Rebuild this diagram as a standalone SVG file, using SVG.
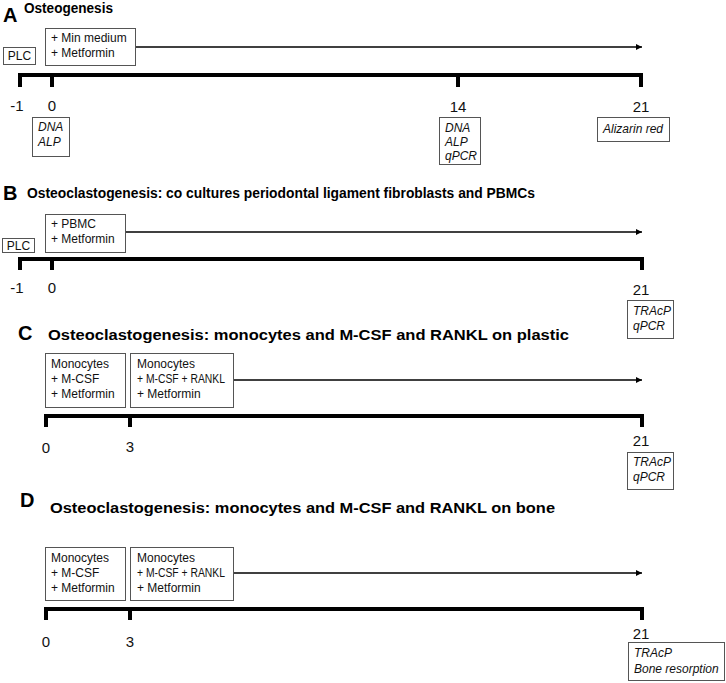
<svg xmlns="http://www.w3.org/2000/svg" width="726" height="683" viewBox="0 0 726 683">
<defs>
<marker id="ah" viewBox="0 0 10 10" refX="10" refY="5" markerWidth="8" markerHeight="6" markerUnits="userSpaceOnUse" orient="auto">
<path d="M0,0 L10,5 L0,10 z" fill="#000"/>
</marker>
<style>
.box{fill:#fff;stroke:#555;stroke-width:1}
.t{font-family:"Liberation Sans",Arial,sans-serif;font-size:12px;fill:#111}
.i{font-family:"Liberation Sans",Arial,sans-serif;font-size:12px;font-style:italic;fill:#111}
.n{font-family:"Liberation Sans",Arial,sans-serif;font-size:15px;fill:#111;text-anchor:middle}
.L{font-family:"Liberation Sans",Arial,sans-serif;font-size:20px;font-weight:bold;fill:#000}
.h{font-family:"Liberation Sans",Arial,sans-serif;font-size:14px;font-weight:bold;fill:#000}
.arr{stroke:#000;stroke-width:1.5;fill:none;marker-end:url(#ah)}
.tl{stroke:#000;stroke-width:4;fill:none}
</style>
</defs>
<rect width="726" height="683" fill="#fff"/>

<!-- Connectors: arrows and timelines -->
<g id="connectors">
<line class="arr" x1="135.5" y1="47" x2="642" y2="47"/>
<line class="arr" x1="125.5" y1="232" x2="642" y2="232"/>
<line class="arr" x1="233.5" y1="380" x2="642" y2="380"/>
<line class="arr" x1="233.5" y1="573" x2="642" y2="573"/>
<path class="tl" d="M20,87 V75 H641 V87 M52,75 V87 M458,75 V87"/>
<path class="tl" d="M20,270 V259 H642 V270 M52,259 V270"/>
<path class="tl" d="M46,427 V416 H642 V427 M130,416 V427"/>
<path class="tl" d="M46,620 V609 H642 V620 M130,609 V620"/>
</g>

<!-- Panel A -->
<g id="panelA">
<text class="L" x="3" y="22">A</text>
<text class="h" x="24" y="13" textLength="89" lengthAdjust="spacingAndGlyphs">Osteogenesis</text>
<g id="A_plc"><rect class="box" x="3.5" y="47.5" width="32" height="17"/><text class="t" x="19.5" y="60" text-anchor="middle">PLC</text></g>
<g id="A_treat"><rect class="box" x="45.5" y="28.5" width="90" height="37"/><text class="t" x="51" y="42">+ Min medium</text><text class="t" x="51" y="57">+ Metformin</text></g>
<g id="A_d0"><rect class="box" x="32.5" y="117.5" width="37" height="39"/><text class="i" x="38" y="131">DNA</text><text class="i" x="38" y="146">ALP</text></g>
<g id="A_d14"><rect class="box" x="439.5" y="117.5" width="41" height="47"/><text class="i" x="445" y="132">DNA</text><text class="i" x="445" y="146">ALP</text><text class="i" x="445" y="160">qPCR</text></g>
<g id="A_d21"><rect class="box" x="597.5" y="117.5" width="72" height="24"/><text class="i" x="603" y="133">Alizarin red</text></g>
<text class="n" x="17" y="111">-1</text>
<text class="n" x="52" y="111">0</text>
<text class="n" x="458" y="112">14</text>
<text class="n" x="641" y="112">21</text>
</g>

<!-- Panel B -->
<g id="panelB">
<text class="L" x="3" y="200">B</text>
<text class="h" x="27" y="198" textLength="508" lengthAdjust="spacingAndGlyphs">Osteoclastogenesis: co cultures periodontal ligament fibroblasts and PBMCs</text>
<g id="B_plc"><rect class="box" x="2.5" y="238.5" width="32" height="14"/><text class="t" x="18.5" y="249.5" text-anchor="middle">PLC</text></g>
<g id="B_treat"><rect class="box" x="45.5" y="214.5" width="80" height="38"/><text class="t" x="51" y="228">+ PBMC</text><text class="t" x="51" y="243">+ Metformin</text></g>
<g id="B_d21"><rect class="box" x="627.5" y="300.5" width="46" height="38"/><text class="i" x="633" y="315">TRAcP</text><text class="i" x="633" y="330">qPCR</text></g>
<text class="n" x="17" y="293">-1</text>
<text class="n" x="52" y="293">0</text>
<text class="n" x="641" y="295">21</text>
</g>

<!-- Panel C -->
<g id="panelC">
<text class="L" x="18" y="340">C</text>
<text class="h" x="48" y="340" textLength="521" lengthAdjust="spacingAndGlyphs">Osteoclastogenesis: monocytes and M-CSF and RANKL on plastic</text>
<g id="C_b1"><rect class="box" x="45.5" y="353.5" width="80" height="54"/><text class="t" x="51" y="368">Monocytes</text><text class="t" x="51" y="383">+ M-CSF</text><text class="t" x="51" y="398">+ Metformin</text></g>
<g id="C_b2"><rect class="box" x="130.5" y="353.5" width="103" height="54"/><text class="t" x="137" y="368">Monocytes</text><text class="t" x="137" y="383" textLength="88" lengthAdjust="spacingAndGlyphs">+ M-CSF + RANKL</text><text class="t" x="137" y="398">+ Metformin</text></g>
<g id="C_d21"><rect class="box" x="627.5" y="452.5" width="46" height="37"/><text class="i" x="633" y="466">TRAcP</text><text class="i" x="633" y="481">qPCR</text></g>
<text class="n" x="46" y="453">0</text>
<text class="n" x="130" y="452">3</text>
<text class="n" x="641" y="446">21</text>
</g>

<!-- Panel D -->
<g id="panelD">
<text class="L" x="20" y="507">D</text>
<text class="h" x="50" y="513" textLength="505" lengthAdjust="spacingAndGlyphs">Osteoclastogenesis: monocytes and M-CSF and RANKL on bone</text>
<g id="D_b1"><rect class="box" x="45.5" y="547.5" width="80" height="53"/><text class="t" x="51" y="562">Monocytes</text><text class="t" x="51" y="577">+ M-CSF</text><text class="t" x="51" y="592">+ Metformin</text></g>
<g id="D_b2"><rect class="box" x="130.5" y="547.5" width="103" height="53"/><text class="t" x="137" y="562">Monocytes</text><text class="t" x="137" y="577" textLength="88" lengthAdjust="spacingAndGlyphs">+ M-CSF + RANKL</text><text class="t" x="137" y="592">+ Metformin</text></g>
<g id="D_d21"><rect class="box" x="628.5" y="642.5" width="96" height="38"/><text class="i" x="634" y="657">TRAcP</text><text class="i" x="634" y="673">Bone resorption</text></g>
<text class="n" x="46" y="647">0</text>
<text class="n" x="130" y="647">3</text>
<text class="n" x="641" y="639">21</text>
</g>
</svg>
